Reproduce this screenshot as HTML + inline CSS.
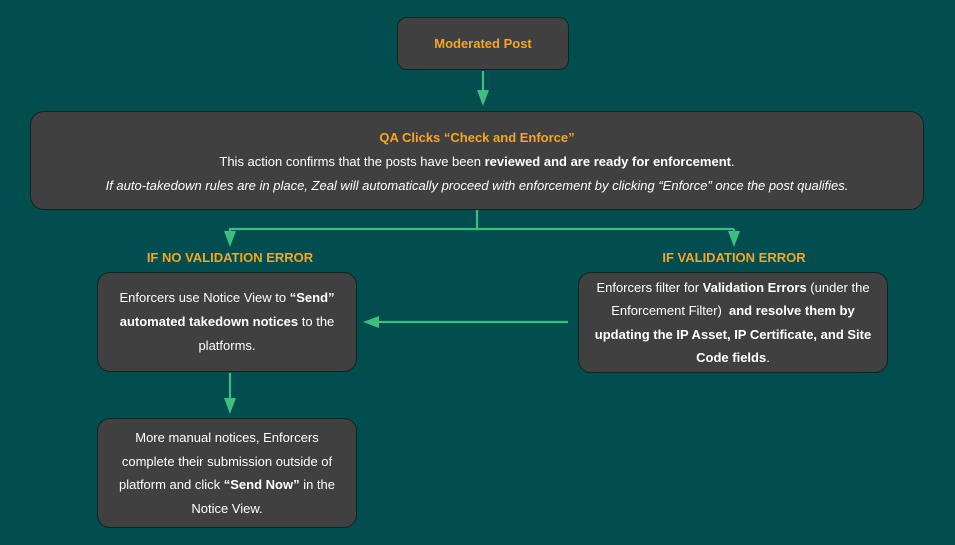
<!DOCTYPE html>
<html><head><meta charset="utf-8">
<style>
html,body{margin:0;padding:0;}
body{width:955px;height:545px;background:#024d4d;position:relative;overflow:hidden;font-family:"Liberation Sans",Arial,sans-serif;}
.box{position:absolute;background:#404040;border:1.5px solid #0f2424;box-sizing:border-box;display:flex;flex-direction:column;align-items:center;justify-content:center;text-align:center;color:#fff;font-size:13px;}
.or{color:#f5a623;font-weight:bold;}
.lbl{position:absolute;color:#f5a623;font-weight:bold;font-size:13px;text-align:center;white-space:nowrap;}
b{font-weight:bold;}
svg{position:absolute;left:0;top:0;}
</style></head><body>
<svg width="955" height="545">
  <g stroke="#3dbe81" stroke-width="2.2" fill="none">
    <line x1="483" y1="71" x2="483" y2="92"/>
    <polyline points="477,210 477,229 230,229 230,234"/>
    <line x1="477" y1="229" x2="734" y2="229"/>
    <line x1="734" y1="229" x2="734" y2="234"/>
    <line x1="568" y1="322" x2="378" y2="322"/>
    <line x1="230" y1="373" x2="230" y2="400"/>
  </g>
  <g fill="#3dbe81">
    <polygon points="477,90 489,90 483,106"/>
    <polygon points="224,231 236,231 230,247"/>
    <polygon points="728,231 740,231 734,247"/>
    <polygon points="379,316 379,328 363,322"/>
    <polygon points="224,398 236,398 230,414"/>
  </g>
</svg>

<div class="box" style="left:397px;top:17px;width:172px;height:53px;border-radius:10px;">
  <div class="or">Moderated Post</div>
</div>

<div class="box" style="left:30px;top:111px;width:894px;height:99px;border-radius:14px;line-height:24px;padding-top:2px;">
  <div class="or">QA Clicks “Check and Enforce”</div>
  <div>This action confirms that the posts have been <b>reviewed and are ready for enforcement</b>.</div>
  <div style="font-style:italic;">If auto-takedown rules are in place, Zeal will automatically proceed with enforcement by clicking “Enforce” once the post qualifies.</div>
</div>

<div class="lbl" style="left:130px;top:250px;width:200px;">IF NO VALIDATION ERROR</div>
<div class="lbl" style="left:634px;top:250px;width:200px;">IF VALIDATION ERROR</div>

<div class="box" style="left:97px;top:272px;width:260px;height:100px;border-radius:13px;line-height:24px;">
  <div>Enforcers use Notice View to <b>“Send”</b><br><b>automated takedown notices</b> to the<br>platforms.</div>
</div>

<div class="box" style="left:578px;top:272px;width:310px;height:101px;border-radius:13px;line-height:23.5px;">
  <div>Enforcers filter for <b>Validation Errors</b> (under the<br>Enforcement Filter)&nbsp; <b>and resolve them by<br>updating the IP Asset, IP Certificate, and Site<br>Code fields</b>.</div>
</div>

<div class="box" style="left:97px;top:418px;width:260px;height:110px;border-radius:13px;line-height:23.5px;">
  <div>More manual notices, Enforcers<br>complete their submission outside of<br>platform and click <b>“Send Now”</b> in the<br>Notice View.</div>
</div>
</body></html>
